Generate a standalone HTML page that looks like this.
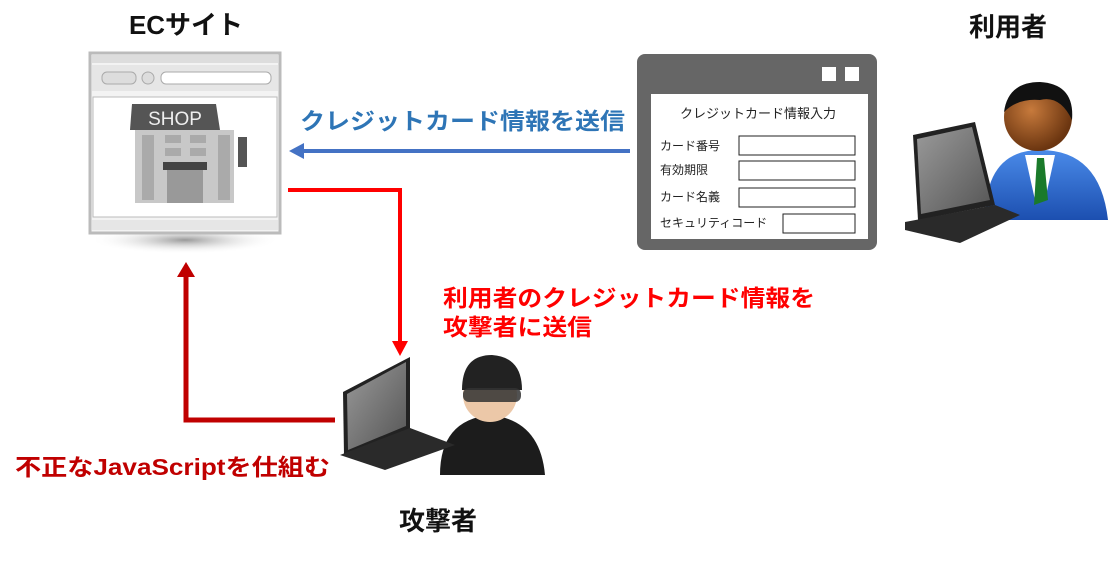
<!DOCTYPE html>
<html><head><meta charset="utf-8"><style>
html,body{margin:0;padding:0;background:#fff;}
svg text{font-family:"Liberation Sans","Noto Sans CJK JP",sans-serif;}
</style></head><body>
<svg width="1118" height="559" viewBox="0 0 1118 559" xmlns="http://www.w3.org/2000/svg">
<defs>
<radialGradient id="face" cx="0.4" cy="0.4" r="0.6"><stop offset="0" stop-color="#c77a3c"/><stop offset="1" stop-color="#6b3510"/></radialGradient>
<linearGradient id="suit" x1="0" y1="0" x2="0" y2="1"><stop offset="0" stop-color="#4a8ae8"/><stop offset="1" stop-color="#1c4fb0"/></linearGradient>
<linearGradient id="scr" x1="0" y1="0" x2="1" y2="1"><stop offset="0" stop-color="#9a9a9a"/><stop offset="1" stop-color="#555"/></linearGradient>
<radialGradient id="shadow" cx="0.5" cy="0.5" r="0.5"><stop offset="0" stop-color="#999"/><stop offset="1" stop-color="#fff" stop-opacity="0"/></radialGradient>
</defs>

<text x="186" y="34" font-size="26" font-weight="bold" text-anchor="middle" fill="#111">ECサイト</text>
<text x="1008" y="36" font-size="26" font-weight="bold" text-anchor="middle" fill="#111">利用者</text>
<text x="438" y="530" font-size="26" font-weight="bold" text-anchor="middle" fill="#111">攻撃者</text>

<ellipse cx="185" cy="240" rx="95" ry="14" fill="url(#shadow)"/>
<rect x="90" y="53" width="190" height="180" fill="#f3f3f3" stroke="#bbb" stroke-width="3"/>
<rect x="92" y="55" width="186" height="8" fill="#ddd"/>
<rect x="92" y="65" width="186" height="26" fill="#e6e6e6"/>
<rect x="102" y="72" width="34" height="12" rx="5" fill="#ddd" stroke="#aaa"/>
<circle cx="148" cy="78" r="6" fill="#ddd" stroke="#aaa"/>
<rect x="161" y="72" width="110" height="12" rx="5" fill="#fff" stroke="#aaa"/>
<rect x="93" y="97" width="184" height="120" fill="#fff" stroke="#bbb"/>
<rect x="92" y="220" width="186" height="10" fill="#e6e6e6"/>
<path d="M132,104 L216,104 L220,130 L130,130 Z" fill="#555"/>
<text x="175" y="125" font-size="19" fill="#eee" text-anchor="middle">SHOP</text>
<rect x="135" y="130" width="99" height="73" fill="#c8c8c8"/>
<rect x="142" y="135" width="12" height="65" fill="#aaa"/>
<rect x="218" y="135" width="12" height="65" fill="#aaa"/>
<rect x="165" y="135" width="16" height="8" fill="#aaa"/><rect x="190" y="135" width="16" height="8" fill="#aaa"/>
<rect x="165" y="148" width="16" height="8" fill="#aaa"/><rect x="190" y="148" width="16" height="8" fill="#aaa"/>
<rect x="163" y="162" width="44" height="8" fill="#444"/>
<rect x="167" y="170" width="36" height="33" fill="#999"/>
<rect x="238" y="137" width="9" height="30" fill="#555"/>

<rect x="637" y="54" width="240" height="196" rx="8" fill="#666"/>
<rect x="822" y="67" width="14" height="14" fill="#fff"/>
<rect x="845" y="67" width="14" height="14" fill="#fff"/>
<rect x="651" y="94" width="217" height="145" fill="#fff"/>
<text x="758" y="118" font-size="13" text-anchor="middle" fill="#222">クレジットカード情報入力</text>
<text x="660" y="150" font-size="12" fill="#222">カード番号</text>
<text x="660" y="174" font-size="12" fill="#222">有効期限</text>
<text x="660" y="201" font-size="12" fill="#222">カード名義</text>
<text x="660" y="227" font-size="12" fill="#222">セキュリティコード</text>
<rect x="739" y="136" width="116" height="19" fill="#fff" stroke="#222"/>
<rect x="739" y="161" width="116" height="19" fill="#fff" stroke="#222"/>
<rect x="739" y="188" width="116" height="19" fill="#fff" stroke="#222"/>
<rect x="783" y="214" width="72" height="19" fill="#fff" stroke="#222"/>

<path d="M985,220 Q985,150 1040,150 Q1100,150 1108,220 Z" fill="url(#suit)"/>
<path d="M1025,155 L1055,155 L1045,200 L1035,200 Z" fill="#fff"/>
<path d="M1037,158 L1044,158 L1048,200 L1034,205 Z" fill="#1a7a2a"/>
<circle cx="1038" cy="117" r="34" fill="url(#face)"/>
<path d="M1004,112 Q1008,82 1040,82 Q1075,84 1072,120 Q1060,95 1040,100 Q1018,98 1004,112 Z" fill="#111"/>
<path d="M913,135 L975,122 L995,205 L918,220 Z" fill="#222"/>
<path d="M917,139 L972,127 L990,200 L921,214 Z" fill="url(#scr)"/>
<path d="M905,222 L995,205 L1020,215 L960,243 L905,230 Z" fill="#2a2a2a"/>

<path d="M440,475 Q440,420 490,415 Q540,420 545,475 Z" fill="#1c1c1c"/>
<circle cx="490" cy="395" r="27" fill="#ecc8a8"/>
<path d="M462,390 Q462,355 492,355 Q522,357 522,390 Z" fill="#222"/>
<rect x="463" y="388" width="58" height="14" rx="6" fill="#333" opacity="0.85"/>
<path d="M343,392 L410,357 L410,430 L344,455 Z" fill="#222"/>
<path d="M347,394 L406,362 L406,426 L348,450 Z" fill="url(#scr)"/>
<path d="M340,455 L410,428 L455,445 L385,470 Z" fill="#2a2a2a"/>

<line x1="630" y1="151" x2="302" y2="151" stroke="#4472c4" stroke-width="4"/>
<polygon points="289,151 304,143 304,159" fill="#4472c4"/>
<text x="300" y="129" font-size="23" font-weight="bold" fill="#2e75b6" textLength="325" lengthAdjust="spacingAndGlyphs">クレジットカード情報を送信</text>

<polyline points="288,190 400,190 400,342" fill="none" stroke="#ff0000" stroke-width="4"/>
<polygon points="400,356 392,341 408,341" fill="#ff0000"/>
<text x="443" y="306" font-size="23" font-weight="bold" fill="#ff0000" textLength="372" lengthAdjust="spacingAndGlyphs">利用者のクレジットカード情報を</text>
<text x="443" y="335" font-size="23" font-weight="bold" fill="#ff0000" textLength="149" lengthAdjust="spacingAndGlyphs">攻撃者に送信</text>

<polyline points="335,420 186,420 186,276" fill="none" stroke="#c00000" stroke-width="5"/>
<polygon points="186,262 177,277 195,277" fill="#c00000"/>
<text x="15" y="475" font-size="23" font-weight="bold" fill="#c00000" textLength="315" lengthAdjust="spacingAndGlyphs">不正なJavaScriptを仕組む</text>
</svg>
</body></html>
